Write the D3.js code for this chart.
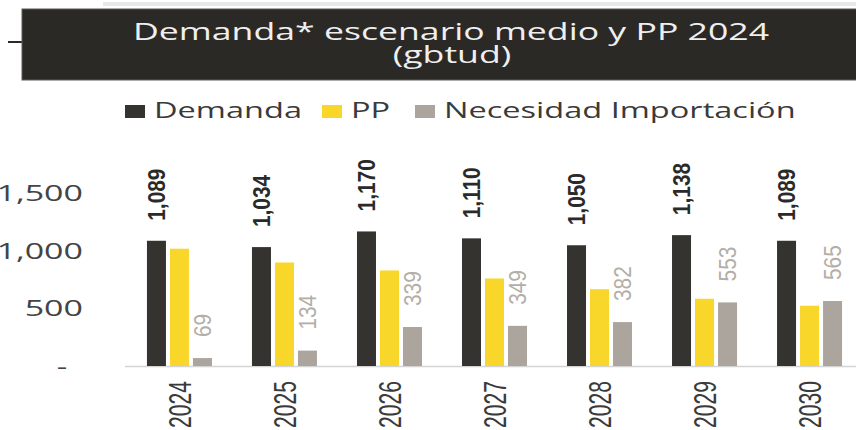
<!DOCTYPE html>
<html>
<head>
<meta charset="utf-8">
<script src="https://cdn.jsdelivr.net/npm/d3@7"></script>
<style>
  html, body { margin: 0; padding: 0; background: #fff; }
  #chart { width: 856px; height: 430px; overflow: hidden; }
</style>
</head>
<body>
<div id="chart"></div>
<script>
// Datos (gbtud)
const years = ['2024', '2025', '2026', '2027', '2028', '2029', '2030'];
const demanda = [1089, 1034, 1170, 1110, 1050, 1138, 1089];
const pp = [1020, 900, 831, 761, 668, 585, 524];
const necesidad = [69, 134, 339, 349, 382, 553, 565];
const seriesNames = ['Demanda', 'PP', 'Necesidad Importación'];
const seriesColors = ['#353330', '#f9d62a', '#aca59e'];
const yTicks = [0, 500, 1000, 1500];

const width = 856, height = 430;
const baseY = 366;
// il riferimento e' "stirato" in orizzontale
const stretch = 1.55;
const sans = '"Open Sans", sans-serif';
const narrow = '"Liberation Sans", Arial, sans-serif';

const svg = d3.select('#chart')
    .append('svg')
    .attr('width', width)
    .attr('height', height);

// testo orizzontale allargato
function wideText(parent, x, y, str, size, color, anchor, sx) {
    return parent.append('g')
        .attr('transform', `translate(${x}, ${y}) scale(${sx || stretch}, 1)`)
        .append('text')
        .attr('text-anchor', anchor || 'start')
        .attr('font-family', sans)
        .attr('font-size', size)
        .attr('fill', color)
        .text(str);
}

//----------------- Cabecera -----------------
svg.append('line')
    .attr('x1', 103).attr('x2', width)
    .attr('y1', 4).attr('y2', 4)
    .attr('stroke', '#e8e8e8')
    .attr('stroke-width', 4);

svg.append('line')
    .attr('x1', 8).attr('x2', 24)
    .attr('y1', 42).attr('y2', 42)
    .attr('stroke', '#2b2926')
    .attr('stroke-width', 2);

svg.append('rect')
    .attr('x', 22).attr('y', 9)
    .attr('width', width).attr('height', 71)
    .attr('fill', '#2b2926')
    .attr('stroke', '#5e5b57')
    .attr('stroke-width', 1);

wideText(svg, 451, 40, 'Demanda* escenario medio y PP 2024', 23, '#efefef', 'middle');
wideText(svg, 452, 63, '(gbtud)', 23, '#efefef', 'middle');

//----------------- Leyenda -----------------
const legendX = [125, 322, 415];
const legend = svg.append('g');
seriesNames.forEach((name, i) => {
    legend.append('rect')
        .attr('x', legendX[i]).attr('y', 105)
        .attr('width', 20).attr('height', 13)
        .attr('fill', seriesColors[i]);
    wideText(legend, legendX[i] + 29, 118, name, 21, '#3a3a3a');
});

//----------------- Escalas -----------------
const x0 = d3.scaleBand()
    .domain(years)
    .range([127, 862])
    .paddingInner(0.381)
    .paddingOuter(0.19);

const x1 = d3.scaleBand()
    .domain(seriesNames)
    .range([0, x0.bandwidth()])
    .paddingInner(0.174)
    .paddingOuter(0);

const y = d3.scaleLinear()
    .domain([0, 1500])
    .range([baseY, baseY - 172.5]);

// Eje Y (solo etiquetas)
const yAxis = svg.append('g');
yTicks.filter((d) => d > 0).forEach((t) => {
    wideText(yAxis, 83, y(t), d3.format(',')(t), 21, '#444', 'end', 1.62)
        .attr('dy', '0.36em');
});
wideText(yAxis, 62, y(0), '-', 21, '#444', 'middle').attr('dy', '0.36em');

// Linea base
svg.append('line')
    .attr('x1', 125).attr('x2', width)
    .attr('y1', baseY + 0.5).attr('y2', baseY + 0.5)
    .attr('stroke', '#d4d4d4')
    .attr('stroke-width', 1.5);

//----------------- Barras -----------------
const rows = years.map((yr, i) => ({
    year: yr,
    values: [demanda[i], pp[i], necesidad[i]]
}));

const groups = svg.append('g')
    .selectAll('g')
    .data(rows)
    .enter()
    .append('g')
    .attr('transform', (d) => `translate(${x0(d.year)}, 0)`);

groups.selectAll('rect')
    .data((d) => d.values.map((v, j) => ({ key: seriesNames[j], value: v, idx: j })))
    .enter()
    .append('rect')
    .attr('x', (d) => x1(d.key))
    .attr('y', (d) => y(d.value))
    .attr('width', x1.bandwidth())
    .attr('height', (d) => baseY - y(d.value))
    .attr('fill', (d) => seriesColors[d.idx]);

// Etiquetas Demanda
groups.append('g')
    .attr('transform', (d) => `translate(${x1('Demanda') + x1.bandwidth() / 2}, ${y(d.values[0]) - 20}) rotate(-90) scale(0.87, 1)`)
    .append('text')
    .attr('dy', '0.36em')
    .attr('font-family', narrow)
    .attr('font-weight', 'bold')
    .attr('font-size', 24)
    .attr('fill', '#2a2a2a')
    .text((d) => d3.format(',')(d.values[0]));

// Etiquetas Necesidad Importacion
groups.append('g')
    .attr('transform', (d) => `translate(${x1('Necesidad Importación') + x1.bandwidth() / 2}, ${y(d.values[2]) - 21}) rotate(-90) scale(0.87, 1)`)
    .append('text')
    .attr('dy', '0.36em')
    .attr('font-family', narrow)
    .attr('font-size', 24)
    .attr('fill', '#b3aea8')
    .text((d) => d3.format(',')(d.values[2]));

// Etiquetas de años
groups.append('g')
    .attr('transform', `translate(${x0.bandwidth() / 2}, 381) rotate(-90) scale(0.68, 1)`)
    .append('text')
    .attr('text-anchor', 'end')
    .attr('dy', '0.36em')
    .attr('font-family', narrow)
    .attr('font-size', 31)
    .attr('fill', '#3a3a3a')
    .text((d) => d.year);
</script>
</body>
</html>
